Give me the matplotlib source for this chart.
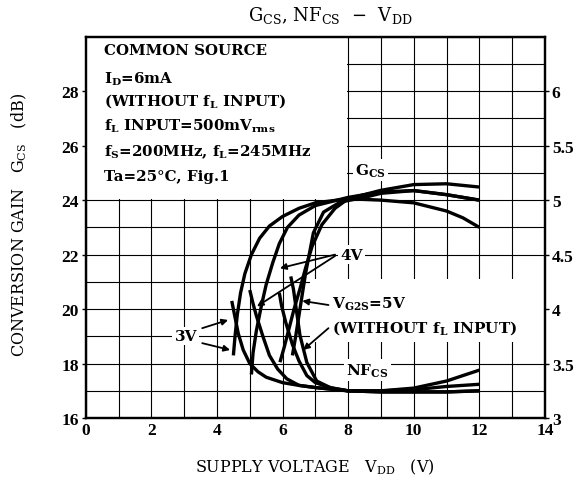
import numpy as np
import matplotlib
matplotlib.use("Agg")
import matplotlib.pyplot as plt
from matplotlib.patches import Rectangle

plt.rcParams['font.family'] = ['DejaVu Serif']

# Conversion gain G_CS (dB, left axis) vs V_DD (V)
g3_x = [4.5, 4.55, 4.62, 4.72, 4.85, 5.05, 5.3, 5.6, 6.0, 6.5, 7.0, 8.0, 9.0, 9.5, 10.0, 10.5, 11.0, 11.5, 12.0]
g3_y = [18.3, 19.0, 19.8, 20.6, 21.3, 22.0, 22.6, 23.05, 23.4, 23.7, 23.9, 24.05, 24.0, 23.95, 23.9, 23.75, 23.6, 23.35, 23.0]

g4_x = [5.05, 5.1, 5.2, 5.35, 5.5, 5.7, 5.9, 6.15, 6.5, 7.0, 8.0, 9.0, 10.0, 11.0, 12.0]
g4_y = [17.6, 18.4, 19.2, 20.1, 20.9, 21.7, 22.4, 23.0, 23.45, 23.8, 24.1, 24.3, 24.35, 24.2, 24.0]

g5_x = [5.92, 6.05, 6.2, 6.35, 6.53, 6.7, 6.9, 7.2, 7.6, 8.0, 9.0, 10.0, 11.0, 12.0]
g5_y = [18.05, 18.6, 19.3, 20.0, 20.74, 21.5, 22.3, 23.1, 23.7, 24.05, 24.36, 24.57, 24.6, 24.48]

gw_x = [6.3, 6.4, 6.53, 6.7, 6.94, 7.25, 7.76, 8.5, 9.0, 10.0, 11.0, 12.0]
gw_y = [18.3, 19.0, 20.0, 21.3, 22.8, 23.56, 23.93, 24.1, 24.25, 24.35, 24.2, 24.0]

# Noise figure NF_CS (dB, right axis) vs V_DD (V)
n3_x = [4.45, 4.55, 4.65, 4.8, 5.0, 5.25, 5.5, 6.0, 6.5, 7.0, 8.0, 9.0, 10.0, 11.0, 12.0]
n3_y = [4.075, 3.925, 3.775, 3.625, 3.5, 3.425, 3.375, 3.325, 3.3, 3.28, 3.25, 3.24, 3.24, 3.24, 3.25]

n4_x = [5.0, 5.1, 5.2, 5.4, 5.6, 5.85, 6.13, 6.5, 7.0, 8.0, 9.0, 10.0, 11.0, 12.0]
n4_y = [4.175, 4.05, 3.94, 3.75, 3.575, 3.45, 3.36, 3.3, 3.28, 3.25, 3.25, 3.26, 3.29, 3.31]

n5_x = [5.9, 5.97, 6.1, 6.3, 6.5, 6.74, 7.0, 7.5, 8.0, 9.0, 10.0, 11.0, 12.0]
n5_y = [4.15, 4.03, 3.875, 3.675, 3.525, 3.39, 3.325, 3.275, 3.25, 3.25, 3.275, 3.34, 3.44]

nw_x = [6.25, 6.33, 6.53, 6.74, 7.04, 7.45, 8.0, 9.0, 10.0, 11.0, 12.0]
nw_y = [4.3, 4.185, 3.76, 3.51, 3.34, 3.28, 3.25, 3.24, 3.24, 3.24, 3.25]

x_ticks = [0, 2, 4, 6, 8, 10, 12, 14]
g_ticks = [16, 18, 20, 22, 24, 26, 28]
nf_ticks = [3, 3.5, 4, 4.5, 5, 5.5, 6]
nf_labels = ['3', '3.5', '4', '4.5', '5', '5.5', '6']

box_lines = [
    'COMMON SOURCE',
    r'I$_\mathregular{D}$=6mA',
    r'(WITHOUT f$_\mathregular{L}$ INPUT)',
    r'f$_\mathregular{L}$ INPUT=500mV$_\mathregular{rms}$',
    r'f$_\mathregular{S}$=200MHz, f$_\mathregular{L}$=245MHz',
    'Ta=25°C, Fig.1',
]

tick_font = dict(family='Liberation Serif', weight='bold', size=12.5)

fig = plt.figure(figsize=(5.76, 4.89), dpi=100)
ax = fig.add_axes([0.149, 0.143, 0.797, 0.78])
ax.set_xlim(0, 14)
ax.set_ylim(16, 30)

ax.set_xticks(x_ticks)
ax.set_xticks(range(15), minor=True)
ax.set_yticks(g_ticks)
ax.set_yticks(range(16, 31), minor=True)
ax.grid(True, which='both', color='black', lw=0.8)
ax.set_axisbelow(True)
ax.tick_params(axis='x', which='both', length=0, pad=3)
ax.tick_params(axis='y', which='major', direction='out', length=3, width=1, pad=2)
ax.tick_params(axis='y', which='minor', length=0)
ax.set_xticklabels([str(v) for v in x_ticks], fontdict=tick_font)
ax.set_yticklabels([str(v) for v in g_ticks], fontdict=tick_font)
for sp in ax.spines.values():
    sp.set_linewidth(1.6)

# white areas hiding the grid behind the text
ax.add_patch(Rectangle((0, 24.05), 7.95, 5.95, facecolor='white', edgecolor='none', zorder=1))
ax.add_patch(Rectangle((6.85, 18.8), 7.15, 2.3, facecolor='white', edgecolor='none', zorder=1))

lw = 2.4
for xs, ys in [(g3_x, g3_y), (g4_x, g4_y), (g5_x, g5_y), (gw_x, gw_y)]:
    ax.plot(xs, ys, color='black', lw=lw, solid_capstyle='butt', zorder=3)

ax2 = ax.twinx()
ax2.set_ylim(3, 6.5)
ax2.set_yticks(nf_ticks)
ax2.set_yticklabels(nf_labels, fontdict=tick_font)
ax2.tick_params(axis='y', direction='out', length=3, width=1, pad=2)
for sp in ax2.spines.values():
    sp.set_linewidth(1.6)
for xs, ys in [(n3_x, n3_y), (n4_x, n4_y), (n5_x, n5_y), (nw_x, nw_y)]:
    ax2.plot(xs, ys, color='black', lw=lw, solid_capstyle='butt', zorder=3)

# condition box text
box_y = [29.5, 28.46, 27.65, 26.74, 25.8, 24.9]
for s, yy in zip(box_lines, box_y):
    ax.text(0.55, yy, s, fontsize=10.8, fontweight='bold', va='center', ha='left', zorder=4)

wb = dict(facecolor='white', edgecolor='none', pad=1.5)
arrow = dict(arrowstyle='-|>', color='black', lw=1.3, mutation_scale=9, shrinkA=0, shrinkB=0)

ax.text(8.67, 25.1, r'G$_\mathregular{CS}$', fontsize=11, fontweight='bold',
        ha='center', va='center', bbox=wb, zorder=4)
ax.text(8.58, 17.75, r'NF$_\mathregular{CS}$', fontsize=11, fontweight='bold',
        ha='center', va='center', bbox=wb, zorder=4)

ax.text(3.05, 19.0, '3V', fontsize=11, fontweight='bold', ha='center', va='center', bbox=wb, zorder=4)
ax.annotate('', xy=(4.34, 19.6), xytext=(3.55, 19.3), arrowprops=arrow, zorder=4)
ax.annotate('', xy=(4.4, 18.5), xytext=(3.55, 18.75), arrowprops=arrow, zorder=4)

ax.text(8.1, 22.0, '4V', fontsize=11, fontweight='bold', ha='center', va='center', bbox=wb, zorder=4)
ax.annotate('', xy=(5.92, 21.5), xytext=(7.6, 22.0), arrowprops=arrow, zorder=4)
ax.annotate('', xy=(5.22, 20.1), xytext=(7.6, 21.95), arrowprops=arrow, zorder=4)

ax.text(7.5, 20.2, r'V$_\mathregular{G2S}$=5V', fontsize=11, fontweight='bold',
        ha='left', va='center', zorder=4)
ax.text(7.5, 19.3, r'(WITHOUT f$_\mathregular{L}$ INPUT)', fontsize=11, fontweight='bold',
        ha='left', va='center', zorder=4)
ax.annotate('', xy=(6.6, 20.3), xytext=(7.4, 20.15), arrowprops=arrow, zorder=4)
ax.annotate('', xy=(6.63, 18.5), xytext=(7.4, 19.3), arrowprops=arrow, zorder=4)

fig.text(0.573, 0.968, r'G$_\mathregular{CS}$, NF$_\mathregular{CS}$  −  V$_\mathregular{DD}$',
         fontsize=13, ha='center', va='center')
fig.text(0.034, 0.54, r'CONVERSION GAIN   G$_\mathregular{CS}$   (dB)', fontsize=11.5,
         rotation=90, ha='center', va='center')
fig.text(0.547, 0.045, r'SUPPLY VOLTAGE   V$_\mathregular{DD}$   (V)', fontsize=11.5,
         ha='center', va='center')

fig.savefig('out.png', dpi=100)
